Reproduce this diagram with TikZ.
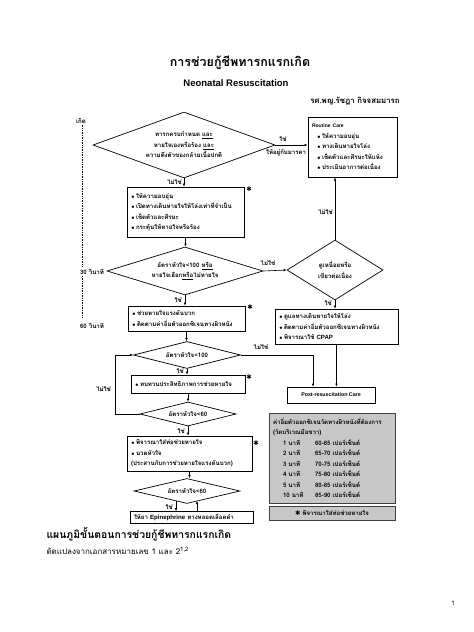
\documentclass[tikz,border=0pt]{standalone}
\usepackage{fontspec}
\setmainfont{Loma}[Script=Thai]
\newfontfamily\latinfont{Liberation Sans}
\newfontfamily\symfont{DejaVu Sans}
\usetikzlibrary{shapes.geometric,arrows.meta}

\newcommand{\boxtext}{\fontsize{6.1}{10.5}\selectfont\bfseries}
\newcommand{\itm}{\makebox[5pt][l]{$\scriptscriptstyle\bullet$}}
\newcommand{\starnote}{{\symfont\fontsize{6.5}{6}\selectfont ✱}}

\tikzset{
  flowbox/.style={draw, line width=0.7pt, rectangle, inner xsep=4pt, inner ysep=0pt, align=left, font=\boxtext},
  decision/.style={draw, line width=0.7pt, diamond, inner sep=0pt, align=center, font=\boxtext},
  graybox/.style={flowbox, fill=black!22, draw=black!75},
  flowlabel/.style={inner sep=1pt, font=\boxtext},
  arr/.style={-{Latex[length=3pt,width=2.6pt]}, line width=0.6pt},
}

\begin{document}
\begin{tikzpicture}[x=1pt,y=-1pt]
\useasboundingbox (0,0) rectangle (474,632);

% headings
\node[font=\fontsize{12.5}{14}\selectfont\bfseries] (title) at (240,63) {การช่วยกู้ชีพทารกแรกเกิด};
\node[font=\latinfont\fontsize{9.5}{11}\selectfont\bfseries] (subtitle) at (236,83) {Neonatal Resuscitation};
\node[font=\fontsize{7.8}{10}\selectfont\bfseries] (author) at (355,101) {รศ.พญ.รัชฎา กิจจสมมารถ};

% time line
\node[flowlabel] (born) at (81,121) {เกิด};
\coordinate (tend) at (82,318);
\draw[densely dotted, line width=0.7pt] (born.south -| tend) -- (tend);
\node[flowlabel, fill=white] (sec30) at (92,272) {30 วินาที};
\node[flowlabel] (sec60) at (92,326) {60 วินาที};

% main column
\node[decision, minimum width=182pt, minimum height=66pt, aspect=2.76] (check) at (184,145)
  {ทารกครบกำหนด \underline{และ}\\หายใจเองหรือร้อง \underline{และ}\\ความตึงตัวของกล้ามเนื้อปกติ};
\node[flowbox, text width=81pt, minimum height=60pt, line width=1pt] (routine) at (352.5,147)
  {{\latinfont\bfseries\fontsize{5}{6}\selectfont Routine Care}\\
   \hspace*{5pt}\itm ให้ความอบอุ่น\\
   \hspace*{5pt}\itm ทางเดินหายใจโล่ง\\
   \hspace*{5pt}\itm เช็ดตัวและศีรษะให้แห้ง\\
   \hspace*{5pt}\itm ประเมินอาการต่อเนื่อง};
\node[flowbox, text width=109pt, minimum height=50pt] (warm) at (185.5,212)
  {\itm ให้ความอบอุ่น\\
   \itm เปิดทางเดินหายใจให้โล่งเท่าที่จำเป็น\\
   \itm เช็ดตัวและศีรษะ\\
   \itm กระตุ้นให้หายใจหรือร้อง};
\node[decision, minimum width=156pt, minimum height=48pt, aspect=3.25] (hr1) at (185,271)
  {อัตราหัวใจ<100 \underline{หรือ}\\หายใจเฮือก\underline{หรือ}ไม่หายใจ};
\node[decision, minimum width=96pt, minimum height=60pt, aspect=1.6] (cyan) at (335,270)
  {ดูเหนื่อยหรือ\\เขียวต่อเนื่อง};
\node[flowbox, text width=109pt, minimum height=25pt] (ppv) at (186.5,318.5)
  {\itm ช่วยหายใจแรงดันบวก\\
   \itm ติดตามค่าอิ่มตัวออกซิเจนทางผิวหนัง};
\node[flowbox, text width=115pt, minimum height=35pt] (cpap) at (336.5,326.5)
  {\itm ดูแลทางเดินหายใจให้โล่ง\\
   \itm ติดตามค่าอิ่มตัวออกซิเจนทางผิวหนัง\\
   \itm พิจารณาใช้ {\latinfont CPAP}};
\node[decision, minimum width=107pt, minimum height=27pt, aspect=3.96] (hr2) at (187,355) {อัตราหัวใจ<100};
\node[flowbox, text width=106pt, minimum height=18pt] (review) at (188,384)
  {\itm ทบทวนประสิทธิภาพการช่วยหายใจ};
\node[decision, minimum width=96pt, minimum height=24pt, aspect=4] (hr3) at (188,414) {อัตราหัวใจ<60};
\node[flowbox, text width=117pt, minimum height=35pt] (tube) at (189.5,453.5)
  {\itm พิจารณาใส่ท่อช่วยหายใจ\\
   \itm นวดหัวใจ\\
   (ประสานกับการช่วยหายใจแรงดันบวก)};
\node[decision, minimum width=106pt, minimum height=25pt, aspect=4.24] (hr4) at (187,491) {อัตราหัวใจ<60};
\node[flowbox, text width=115pt, minimum height=12pt] (epi) at (191.5,517.5)
  {ให้ยา {\latinfont Epinephrine} ทางหลอดเลือดดำ};
\node[flowbox, minimum width=88pt, minimum height=16pt, align=center] (post) at (331,395)
  {{\latinfont\bfseries\fontsize{5.3}{6}\selectfont Post-resuscitation Care}};

% side boxes
\node[graybox, text width=118pt, minimum height=90pt] (spo2) at (332,458)
  {ค่าอิ่มตัวออกซิเจนวัดทางผิวหนังที่ต้องการ\\
   (วัดบริเวณมือขวา)\\
   \hspace*{10pt}\makebox[32pt][l]{1 นาที}60-65 เปอร์เซ็นต์\\
   \hspace*{10pt}\makebox[32pt][l]{2 นาที}65-70 เปอร์เซ็นต์\\
   \hspace*{10pt}\makebox[32pt][l]{3 นาที}70-75 เปอร์เซ็นต์\\
   \hspace*{10pt}\makebox[32pt][l]{4 นาที}75-80 เปอร์เซ็นต์\\
   \hspace*{10pt}\makebox[32pt][l]{5 นาที}80-85 เปอร์เซ็นต์\\
   \hspace*{10pt}\makebox[32pt][l]{10 นาที}85-90 เปอร์เซ็นต์};
\node[graybox, minimum width=126pt, minimum height=14pt, align=center] (note) at (332,513)
  {\starnote\ พิจารณาใส่ท่อช่วยหายใจ};

% stars
\node[inner sep=0pt] (star1) at (249,189) {\starnote};
\node[inner sep=0pt] (star2) at (250,307) {\starnote};
\node[inner sep=0pt] (star3) at (249,377) {\starnote};
\node[inner sep=0pt] (star4) at (256,443) {\starnote};

% connectors
\draw[arr] (check.east) -- (check.east -| routine.west);
\node[flowlabel] (yes1) at (283,139) {ใช่};
\node[flowlabel] (mother) at (286,153) {ให้อยู่กับมารดา};
\draw[arr] (check.south) -- (check.south |- warm.north);
\node[flowlabel, anchor=east] (no1) at (183,182) {ไม่ใช่};
\draw[arr] (warm.south) -- (warm.south |- hr1.north);
\draw[arr] (hr1.east) -- (cyan.west);
\node[flowlabel] (no2) at (268,263) {ไม่ใช่};
\draw[arr] (cyan.north) -- (cyan.north |- routine.south);
\node[flowlabel, anchor=east] (no3) at (334,212) {ไม่ใช่};
\draw[arr] (cyan.south) -- (cyan.south |- cpap.north);
\node[flowlabel, anchor=east] (yes3) at (333,303) {ใช่};
\draw[arr] (hr1.south) -- (hr1.south |- ppv.north);
\node[flowlabel, anchor=east] (yes2) at (183,300) {ใช่};
\draw[arr] (ppv.south) -- (ppv.south |- hr2.north);
\coordinate (bend) at (313,355);
\draw[arr] (hr2.east) -- (bend) -- (bend |- post.north);
\node[flowlabel] (no4) at (261,347) {ไม่ใช่};
\draw[arr] (cpap.south) -- (cpap.south |- post.north);
\draw[arr] (hr2.south) -- (hr2.south |- review.north);
\node[flowlabel, anchor=east] (yes4) at (185,371) {ใช่};
\draw[arr] (review.south) -- (review.south |- hr3.north);
\coordinate (loop) at (115,414);
\draw[arr] (hr3.west) -- (loop) -- (loop |- hr2.west) -- (hr2.west);
\node[flowlabel, anchor=east] (no5) at (112,389) {ไม่ใช่};
\draw[arr] (hr3.south) -- (hr3.south |- tube.north);
\node[flowlabel, anchor=east] (yes5) at (186,431) {ใช่};
\draw[arr] (tube.south) -- (tube.south |- hr4.north);
\coordinate (down) at (176,501);
\coordinate (up) at (197,501);
\draw[arr] (down) -- (down |- epi.north);
\draw[arr] (up |- epi.north) -- (up);
\node[flowlabel, anchor=east] (yes6) at (174,507) {ใช่};

% footer
\node[anchor=west, font=\fontsize{10.4}{12}\selectfont\bfseries] (chart) at (43,534) {แผนภูมิขั้นตอนการช่วยกู้ชีพทารกแรกเกิด};
\node[anchor=west, font=\fontsize{8}{10}\selectfont] (source) at (43,551) {ดัดแปลงจากเอกสารหมายเลข 1 และ 2\textsuperscript{1,2}};
\node[font=\fontsize{6}{7}\selectfont] (page) at (453,603) {1};
\end{tikzpicture}
\end{document}
